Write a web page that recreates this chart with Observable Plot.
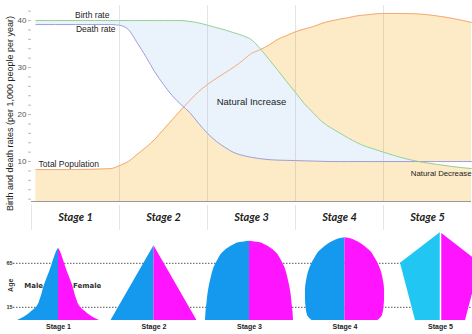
<!DOCTYPE html>
<html><head><meta charset="utf-8">
<script src="https://cdn.jsdelivr.net/npm/d3@7"></script>
<script src="https://cdn.jsdelivr.net/npm/@observablehq/plot@0.6"></script>
<style>
html,body{margin:0;padding:0;background:#fff;overflow:hidden;width:472px;height:334px;}
#chart svg{display:block;}
#chart svg.topchart{overflow:visible;position:relative;z-index:2;}
</style></head><body><div id="chart"></div>
<script>
// ---- Demographic transition (top chart) ----
const stages = ["Stage 1","Stage 2","Stage 3","Stage 4","Stage 5"];
const stageBoundaries = [1,2,3,4];
const xPos = [0.05,0.5,0.9,1.0,1.1,1.2,1.3,1.4,1.5,1.6,1.7,1.8,1.9,2.0,2.1,2.2,2.3,2.4,2.5,2.6,2.7,2.8,2.9,3.0,3.1,3.2,3.3,3.4,3.5,3.6,3.7,3.8,3.9,4.0,4.2,4.4,4.6,4.8,5.0];
const birthRate = [40,40,40,40,40,40,40,40,40,40,40,39.8,39.5,39.0,38.5,38.0,37.4,36.8,35.9,34.0,31.7,29.4,27.0,24.7,22.3,20.4,18.5,17.2,16.1,15.0,14.0,13.2,12.6,12.0,10.85,10.0,9.4,8.9,8.5];
const deathRate = [39.15,39.15,39.15,39.0,38.1,35.3,32.3,29.1,26.4,24.0,22.1,20.4,18.1,16.0,14.3,13.0,11.9,11.3,10.9,10.6,10.4,10.3,10.25,10.2,10.15,10.1,10.05,10,10,10,10,10,10,10,10,10,10,10,10];
const totalPopulation = [8.3,8.3,8.5,9.15,10.0,11.5,13.0,14.7,16.8,18.9,21.0,23.0,24.9,26.4,27.7,28.9,30.1,31.5,33.0,33.8,34.8,36.0,36.8,37.6,38.2,38.7,39.4,39.9,40.3,40.6,41.0,41.2,41.4,41.5,41.5,41.4,41.0,40.4,39.6];
const yMinorTicks = d3.range(2, 43, 2);
const yLabel = "Birth and death rates (per 1,000 people per year)";
const midLabels = ["Birth rate","Death rate","Natural Increase"];
const midX = [0.69,0.73,2.5];
const midY = [41.1,38.1,22.6];
const midSize = [8.5,8.5,9.5];
const startLabel = "Total Population";
const startX = 0.08, startY = 9.4;
const endLabel = "Natural Decrease";
const endX = 5.0, endY = 7.5;

// ---- Population pyramids (bottom) ----
const pyrAges = [
  [0,4,8,15,25,40,55,65,72,78,82],
  [0,85],
  [0,10,20,30,40,50,60,70,76,82,86,88.5,90],
  [0,3,8,15,25,35,45,55,65,72,78,84,88,91,93,94],
  [0,65,100]
];
// half-widths of each pyramid (share of population, arbitrary units)
const pyrHalf = [
  [4.29,3.56,3.04,2.30,1.88,1.47,0.94,0.63,0.42,0.21,0],
  [4.5,0],
  [4.61,4.55,4.45,4.35,4.19,3.98,3.72,3.25,2.88,2.25,1.62,0.99,0],
  [3.46,3.77,3.98,4.08,4.14,4.14,4.03,3.82,3.46,3.09,2.72,2.09,1.57,1.05,0.58,0],
  [2.62,4.19,0]
];
const pyrCenter = [10,20,30,40,50];
const pyrCurve = ["monotone-y","linear","monotone-y","monotone-y","linear"];
const maleColor = ["#1599ef","#1599ef","#1599ef","#1599ef","#22c6f2"];
const femaleColor = "#ff14ff";
const ageTicks = [15,65];

const font = "Liberation Sans, Arial, Helvetica, sans-serif";
const rows = xPos.map((x,i)=>({x, birth: birthRate[i], death: deathRate[i], pop: totalPopulation[i]}));
const base = 1.5;

const topChart = Plot.plot({
  width: 472, height: 202, marginTop: 5, marginBottom: 1, marginLeft: 31, marginRight: 1,
  className: "topchart",
  x: {domain: [0,5], axis: null},
  y: {domain: [base, 43.2]},
  style: {fontFamily: font, background: "transparent", overflow: "visible"},
  marks: [
    Plot.areaY(rows, {x: "x", y1: base, y2: "pop", fill: "#fdeac6", curve: "monotone-x"}),
    Plot.areaY(rows, {x: "x", y1: "death", y2: d => Math.max(d.birth, d.death), fill: "#eaf3fc", curve: "monotone-x"}),
    Plot.areaY(rows, {x: "x", y1: d => Math.min(d.birth, d.death), y2: "death", fill: "#ffffff", curve: "monotone-x"}),
    Plot.ruleX(stageBoundaries, {stroke: "#888", strokeOpacity: 0.22}),
    Plot.ruleY([base], {stroke: "#999"}),
    Plot.lineY(rows, {x: "x", y: "pop", stroke: "#f3a36c", strokeWidth: 0.9, curve: "monotone-x"}),
    Plot.lineY(rows, {x: "x", y: "death", stroke: "#9495da", strokeWidth: 0.9, curve: "monotone-x"}),
    Plot.lineY(rows, {x: "x", y: "birth", stroke: "#8ccd8c", strokeWidth: 0.9, curve: "monotone-x"}),
    Plot.axisY({ticks: yMinorTicks, tickSize: 3, tickPadding: 2, label: null,
      tickFormat: d => d % 10 === 0 ? String(d) : "", fontSize: 8, stroke: "#bbb", fill: "#555"}),
    Plot.text([yLabel], {frameAnchor: "left", textAnchor: "middle", rotate: -90, dx: -21, dy: 10, fontSize: 9, fill: "#222"}),
    Plot.text(midLabels, {x: (d,i) => midX[i], y: (d,i) => midY[i], text: d => d,
      fontSize: (d,i) => midSize[i], fill: "#222"}),
    Plot.text([startLabel], {x: startX, y: startY, text: d => d, textAnchor: "start", fontSize: 8.5, fill: "#222"}),
    Plot.text([endLabel], {x: endX, y: endY, text: d => d, textAnchor: "end", fontSize: 7.8, fill: "#222"})
  ]
});
topChart.style.overflow = "visible";

const band = Plot.plot({
  width: 472, height: 30, marginTop: 3, marginBottom: 2, marginLeft: 31, marginRight: 1,
  x: {domain: [0,5], axis: null},
  y: {axis: null},
  style: {fontFamily: "Lato, 'Open Sans', sans-serif", background: "transparent"},
  marks: [
    Plot.ruleX([0, ...stageBoundaries], {stroke: "#888", strokeOpacity: 0.22}),
    Plot.text(stages, {x: (d,i) => i + 0.5, frameAnchor: "middle", dy: -1, fontSize: 11,
      fontWeight: "bold", fontStyle: "italic", fill: "#222"})
  ]
});

const pyrMarks = [
  Plot.ruleY(ageTicks, {stroke: "#555", strokeDasharray: "1.5,1.5", insetLeft: 13})
];
pyrAges.forEach((ages, s) => {
  const data = ages.map((a, j) => ({age: a, half: pyrHalf[s][j]}));
  const c = pyrCenter[s];
  pyrMarks.push(Plot.areaX(data, {y: "age", x1: d => c - d.half, x2: c, fill: maleColor[s], curve: pyrCurve[s], clip: true}));
  pyrMarks.push(Plot.areaX(data, {y: "age", x1: c, x2: d => c + d.half, fill: femaleColor, curve: pyrCurve[s], clip: true}));
});
pyrMarks.push(Plot.ruleX([pyrCenter[4]], {y1: 0, y2: 100, stroke: "#fff", strokeWidth: 1.5}));
pyrMarks.push(Plot.text(stages, {x: (d,i) => pyrCenter[i], frameAnchor: "bottom", dy: 8, fontSize: 7, fontWeight: "bold", fill: "#222"}));
pyrMarks.push(Plot.text(ageTicks, {y: d => d, text: d => String(d), frameAnchor: "left", textAnchor: "middle", dx: 9, fontSize: 5.5, fontWeight: "bold", fill: "#333"}));
pyrMarks.push(Plot.text(["Age"], {y: 40, frameAnchor: "left", textAnchor: "middle", dx: 10, rotate: -90, fontSize: 7, fontWeight: "bold", fill: "#333"}));
pyrMarks.push(Plot.text(["Male","Female"], {x: (d,i) => pyrCenter[0] + [-2.6, 3.0][i], y: 40, fontSize: 7, fontWeight: "bold", fill: "#333", fontFamily: "DejaVu Sans"}));

const pyrChart = Plot.plot({
  width: 472, height: 102, marginTop: 0, marginBottom: 14, marginLeft: 0, marginRight: 0,
  x: {domain: [3.927, 53.35], axis: null},
  y: {domain: [0, 100], axis: null},
  style: {fontFamily: font, background: "transparent"},
  marks: pyrMarks
});

const el = document.getElementById("chart");
el.append(topChart, band, pyrChart);
</script></body></html>
